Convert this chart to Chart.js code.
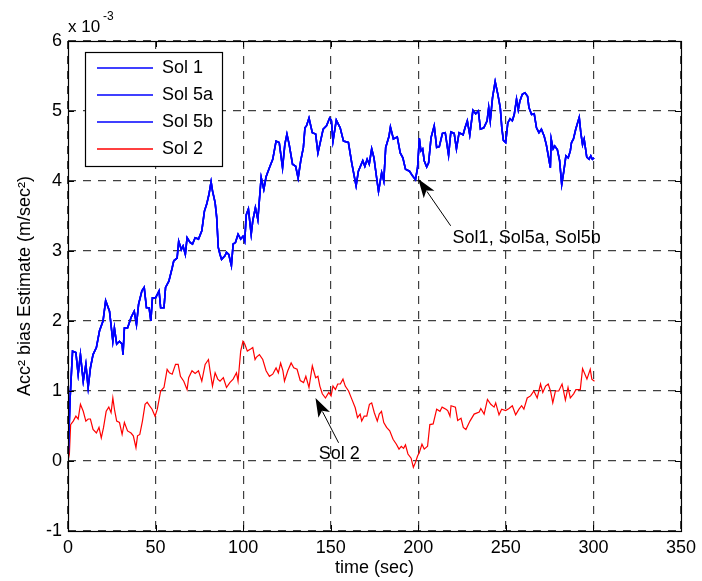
<!DOCTYPE html>
<html>
<head>
<meta charset="utf-8">
<script src="https://cdn.jsdelivr.net/npm/chart.js@4.4.0/dist/chart.umd.min.js"></script>
<style>
  html, body { margin: 0; padding: 0; background: #fff; }
  canvas { display: block; }
</style>
</head>
<body>
<canvas id="accChart" width="702" height="581"></canvas>
<script>
// Sol 1, Sol 5a and Sol 5b lie on top of each other in the plot (x 10^-3)
const solBlueTime = [0, 1.2, 2.6, 4.5, 5.8, 7.1, 8.7, 10.2, 11.5, 12.8, 14.3, 16.2, 18, 20, 21.5, 23.7, 25.6, 26.5, 27.8, 29.4,
  30.9, 31.4, 32.2, 34, 36, 37.8, 39.1, 40.3, 42.2, 43.5, 44.8, 46.3, 47.3, 48.2, 50, 52, 52.9, 54.8, 55.7, 57.6,
  59.5, 60.4, 62.3, 63.2, 64.7, 65.7, 67, 68, 69.8, 71.1, 72.6, 74.5, 76.4, 77.9, 79.2, 80.5, 81.7, 82.5, 84, 84.9,
  85.8, 86.8, 87.7, 89.6, 90.5, 91.8, 93.3, 94.3, 95.6, 97.1, 98.6, 99.9, 100.9, 101.8, 103, 104.6, 105.5, 107, 108.4, 110.3,
  111.8, 113.1, 115, 116.9, 118.8, 120.6, 122.5, 123.8, 125, 126.3, 128.2, 130, 131.4, 132.9, 134.4, 135.3, 136.2, 137.6, 139.5, 141.4,
  142.7, 144.2, 145.7, 147.6, 149.4, 150.4, 151.3, 153.2, 155.4, 157.3, 160.1, 162, 164.5, 165.8, 168.3, 169.5, 170.8, 172, 173.4, 174.7,
  176.2, 177.3, 179.1, 180.3, 181.4, 183.3, 184.1, 185.8, 188, 189.7, 191.2, 192.7, 195, 196.8, 198.4, 199.6, 200.6, 201.5, 202.5, 203.4,
  204.8, 205.9, 207.3, 209.1, 210.5, 212, 213.8, 215.4, 217.3, 218.6, 220.5, 221.8, 223.3, 225.6, 226.7, 228, 229.4, 231.2, 232.8, 234.3,
  235.5, 237.4, 239.3, 240.2, 241.1, 242.4, 243.9, 245.4, 246.8, 247.7, 248.6, 249.9, 251.1, 252.4, 253.7, 254.8, 256.1, 257.1, 258, 259.4,
  260.9, 262.4, 263.2, 264.7, 266.2, 267.5, 268.9, 270.3, 271.9, 273.1, 274.1, 275.4, 275.9, 277, 277.9, 279.4, 280.7, 281.9, 283.1, 284.3,
  285.6, 286.8, 287.5, 288.6, 289.9, 291.9, 292.8, 293.8, 294.7, 296.2, 297.5, 298.5, 299.4, 300.4];
const solBlueVal = [0, 0.9, 1.57, 1.55, 1.24, 1.52, 1.14, 1.38, 1.05, 1.33, 1.52, 1.62, 1.86, 2.0, 2.29, 2.14, 1.71, 1.9, 1.67, 1.71,
  1.67, 1.52, 1.9, 1.9, 2.05, 2.14, 1.95, 2.24, 2.43, 2.48, 2.19, 2.19, 2.0, 2.33, 2.33, 2.43, 2.19, 2.19, 2.48, 2.57,
  2.76, 2.86, 2.9, 3.14, 3.02, 3.07, 2.95, 3.19, 3.12, 3.1, 3.19, 3.17, 3.29, 3.57, 3.67, 3.81, 3.99, 3.86, 3.69, 3.48,
  3.05, 2.95, 2.88, 2.93, 2.98, 2.95, 2.79, 3.1, 3.12, 3.24, 3.17, 3.21, 3.14, 3.52, 3.6, 3.24, 3.43, 3.62, 3.45, 4.05,
  3.88, 4.06, 4.19, 4.31, 4.57, 4.55, 4.19, 4.52, 4.67, 4.52, 4.24, 4.21, 4.04, 4.29, 4.48, 4.76, 4.79, 4.9, 4.69, 4.67,
  4.4, 4.57, 4.74, 4.79, 4.9, 4.86, 4.57, 4.87, 4.76, 4.57, 4.55, 4.26, 3.93, 4.14, 4.29, 4.21, 4.31, 4.24, 4.46, 4.33,
  4.05, 3.85, 4.12, 4.0, 4.48, 4.64, 4.77, 4.6, 4.63, 4.4, 4.33, 4.17, 4.14, 4.07, 4.02, 4.19, 4.61, 4.43, 4.46, 4.29,
  4.2, 4.26, 4.62, 4.79, 4.48, 4.49, 4.68, 4.69, 4.37, 4.7, 4.68, 4.46, 4.69, 4.66, 4.76, 4.86, 4.66, 5.01, 4.96, 5.0,
  4.74, 4.76, 4.86, 5.05, 4.86, 5.19, 5.42, 5.24, 5.05, 4.76, 4.58, 4.55, 4.83, 4.89, 4.86, 4.95, 5.17, 5.02, 5.14, 5.24,
  5.26, 5.21, 5.05, 4.95, 4.96, 4.76, 4.69, 4.74, 4.64, 4.52, 4.38, 4.19, 4.6, 4.46, 4.5, 4.45, 4.29, 3.95, 4.14, 4.36,
  4.33, 4.43, 4.55, 4.6, 4.74, 4.91, 4.69, 4.52, 4.6, 4.34, 4.31, 4.36, 4.31, 4.33];

// Sol 2 (x 10^-3)
const sol2Time = [0, 0.8, 1.5, 3, 4.5, 5.8, 7.1, 8.7, 10.2, 11.5, 12.8, 14.3, 16.2, 17.7, 19, 20.3, 21.8, 23.3, 24.6, 25.6,
  26.5, 27.8, 29.4, 30.9, 32.2, 34, 36, 37.3, 38.8, 39.7, 41, 42.5, 44, 45.2, 46.5, 48, 49.7, 51, 52.9, 54.8,
  56.6, 57.9, 59.5, 61.4, 62.9, 64.2, 66.1, 68, 68.9, 70.8, 72.6, 74.5, 76.4, 78.3, 80.2, 81.1, 82.5, 84, 85.5, 86.8,
  88.7, 90.5, 92.4, 94.3, 96.2, 97.1, 98.6, 99.9, 100.9, 102.4, 104.3, 105.5, 106.8, 107.5, 109.3, 111.2, 113.1, 115, 116.9, 118.8,
  120.1, 121.4, 122.7, 123.6, 125.5, 127.4, 128.9, 130.8, 132.6, 134.5, 135.8, 137.6, 139.5, 141.4, 142.7, 143.8, 145.2, 147, 148.9, 150.2,
  151.3, 152.7, 154, 155.5, 157, 158.3, 160.2, 162.1, 164, 165.3, 166.8, 167.7, 169.1, 170.6, 172.1, 173.4, 174.9, 176.6, 177.7, 179,
  180.3, 181.9, 183.7, 185.6, 187.5, 189, 190.3, 191.6, 192.7, 194.1, 195.9, 197.2, 198.4, 199.6, 200.6, 202.1, 203.4, 205.3, 206.6, 208.5,
  210.5, 212.4, 213.6, 215.8, 216.8, 218.1, 218.7, 221.2, 222.5, 224.4, 225.7, 227.2, 229.5, 231.9, 234.8, 235.7, 237.6, 239.5, 241.4, 243.3,
  244.2, 246.1, 247.6, 249.9, 251.8, 253.7, 255.6, 257.5, 259, 260.3, 262.2, 264.1, 266, 267.9, 269.8, 271.1, 272.7, 274.2, 275.5, 276.8,
  278.3, 280.2, 282.1, 284, 285.5, 286.8, 288.7, 290, 292.5, 293.8, 296.3, 298.2, 299.1, 300.6];
const sol2Val = [0, 0.1, 0.52, 0.57, 0.64, 0.6, 0.81, 0.71, 0.57, 0.6, 0.6, 0.45, 0.4, 0.48, 0.33, 0.48, 0.71, 0.77, 0.69, 0.9,
  0.74, 0.57, 0.55, 0.38, 0.55, 0.43, 0.4, 0.36, 0.19, 0.36, 0.38, 0.57, 0.81, 0.84, 0.79, 0.74, 0.64, 0.74, 1.0, 1.05,
  1.31, 1.26, 1.24, 1.38, 1.38, 1.21, 1.14, 1.02, 1.19, 1.29, 1.25, 1.29, 1.14, 1.38, 1.45, 1.29, 1.07, 1.26, 1.17, 1.14,
  1.19, 1.05, 1.12, 1.17, 1.26, 1.14, 1.57, 1.71, 1.67, 1.57, 1.6, 1.62, 1.45, 1.48, 1.52, 1.45, 1.29, 1.21, 1.24, 1.33,
  1.26, 1.4, 1.29, 1.14, 1.29, 1.4, 1.33, 1.31, 1.15, 1.12, 1.21, 1.05, 1.36, 1.19, 1.21, 1.07, 0.96, 0.9, 0.98, 0.93,
  1.07, 1.02, 1.1, 1.1, 1.17, 1.07, 1.0, 0.88, 0.76, 0.62, 0.67, 0.57, 0.64, 0.64, 0.81, 0.83, 0.69, 0.57, 0.67, 0.71,
  0.55, 0.48, 0.43, 0.31, 0.24, 0.17, 0.21, 0.18, 0.23, 0.1, 0.04, -0.09, -0.02, 0.07, 0.12, 0.24, 0.17, 0.21, 0.52, 0.53,
  0.74, 0.71, 0.77, 0.74, 0.72, 0.64, 0.79, 0.77, 0.58, 0.61, 0.48, 0.45, 0.57, 0.67, 0.7, 0.75, 0.67, 0.88, 0.81, 0.77,
  0.83, 0.66, 0.74, 0.72, 0.75, 0.79, 0.66, 0.74, 0.79, 0.74, 0.9, 0.93, 1.0, 0.9, 1.1, 0.98, 1.07, 1.1, 1.0, 0.83,
  1.0, 1.0, 1.1, 0.87, 1.05, 0.9, 0.96, 1.02, 1.02, 1.32, 1.17, 1.31, 1.17, 1.14];

const seriesNames = ["Sol 1", "Sol 5a", "Sol 5b", "Sol 2"];
const seriesColors = ["#0000ff", "#0000ff", "#0000ff", "#ff0000"];
const xTicks = [0, 50, 100, 150, 200, 250, 300, 350];
const yTicks = [-1, 0, 1, 2, 3, 4, 5, 6];

// text arrows: tip, tail and label anchor in data units
const notes = [
  { text: "Sol1, Sol5a, Sol5b", tip: [200, 4.03], tail: [218.5, 3.36], label: [219.6, 3.19] },
  { text: "Sol 2", tip: [141.3, 0.9], tail: [154.5, 0.26], label: [143.2, 0.1] }
];

const FONT = "'Liberation Sans', Arial, Helvetica, sans-serif";

function toPoints(ts, vs) {
  return ts.map((t, i) => ({ x: t, y: vs[i] }));
}

const bluePts = toPoints(solBlueTime, solBlueVal);
const redPts = toPoints(sol2Time, sol2Val);

const datasets = seriesNames.map((name, i) => ({
  label: name,
  data: i < 3 ? bluePts : redPts,
  borderColor: seriesColors[i],
  borderWidth: i < 3 ? 1.6 : 1.2,
  pointRadius: 0,
  fill: false,
  tension: 0
}));

function drawArrow(ctx, x0, y0, x1, y1) {
  const ang = Math.atan2(y1 - y0, x1 - x0);
  const len = 19, half = 6.5;
  const c = Math.cos(ang), s = Math.sin(ang);
  ctx.beginPath();
  ctx.moveTo(x0, y0);
  ctx.lineTo(x1 - c * len * 0.8, y1 - s * len * 0.8);
  ctx.stroke();
  ctx.beginPath();
  ctx.moveTo(x1, y1);
  ctx.lineTo(x1 - c * len + s * half, y1 - s * len - c * half);
  ctx.lineTo(x1 - c * len * 0.75, y1 - s * len * 0.75);
  ctx.lineTo(x1 - c * len - s * half, y1 - s * len + c * half);
  ctx.closePath();
  ctx.fill();
}

const matlabLook = {
  id: "matlabLook",
  afterDraw(chart) {
    const ctx = chart.ctx;
    const a = chart.chartArea;
    const xs = chart.scales.x, ys = chart.scales.y;
    ctx.save();

    // axes box with inward ticks
    ctx.strokeStyle = "#000";
    ctx.lineWidth = 1.2;
    ctx.strokeRect(a.left + 0.5, a.top + 0.5, a.right - a.left, a.bottom - a.top);
    ctx.lineWidth = 1;
    ctx.beginPath();
    xTicks.forEach(v => {
      const px = Math.round(xs.getPixelForValue(v)) + 0.5;
      ctx.moveTo(px, a.bottom); ctx.lineTo(px, a.bottom - 6);
      ctx.moveTo(px, a.top); ctx.lineTo(px, a.top + 6);
    });
    yTicks.forEach(v => {
      const py = Math.round(ys.getPixelForValue(v)) + 0.5;
      ctx.moveTo(a.left, py); ctx.lineTo(a.left + 6, py);
      ctx.moveTo(a.right, py); ctx.lineTo(a.right - 6, py);
    });
    ctx.stroke();

    // exponent label
    ctx.fillStyle = "#000";
    ctx.textBaseline = "alphabetic";
    ctx.textAlign = "left";
    ctx.font = "17px " + FONT;
    ctx.fillText("x 10", a.left, 32);
    ctx.font = "12px " + FONT;
    ctx.fillText("-3", a.left + 35, 20);

    // legend
    const lx = 85, ly = 52, lw = 137, lh = 114;
    ctx.fillStyle = "#fff";
    ctx.fillRect(lx, ly, lw, lh);
    ctx.strokeStyle = "#000";
    ctx.lineWidth = 1.2;
    ctx.strokeRect(lx + 0.5, ly + 0.5, lw, lh);
    ctx.font = "18px " + FONT;
    ctx.textBaseline = "middle";
    chart.data.datasets.forEach((ds, i) => {
      const ry = ly + 16 + i * 27;
      ctx.strokeStyle = ds.borderColor;
      ctx.lineWidth = 1.3;
      ctx.beginPath();
      ctx.moveTo(lx + 12, ry); ctx.lineTo(lx + 68, ry);
      ctx.stroke();
      ctx.fillStyle = "#000";
      ctx.fillText(ds.label, lx + 77, ry);
    });

    // arrows and their labels
    ctx.strokeStyle = "#000";
    ctx.fillStyle = "#000";
    ctx.lineWidth = 1;
    notes.forEach(n => {
      drawArrow(ctx,
        xs.getPixelForValue(n.tail[0]), ys.getPixelForValue(n.tail[1]),
        xs.getPixelForValue(n.tip[0]), ys.getPixelForValue(n.tip[1]));
      ctx.fillText(n.text, xs.getPixelForValue(n.label[0]), ys.getPixelForValue(n.label[1]));
    });
    ctx.restore();
  }
};

new Chart(document.getElementById("accChart"), {
  type: "line",
  data: { datasets: datasets },
  options: {
    responsive: false,
    animation: false,
    layout: { padding: { top: 41, right: 14, left: 0, bottom: 0 } },
    plugins: { legend: { display: false }, tooltip: { enabled: false } },
    scales: {
      x: {
        type: "linear",
        min: 0,
        max: 350,
        afterBuildTicks: s => { s.ticks = xTicks.map(v => ({ value: v })); },
        afterFit: s => { s.height = 50; },
        grid: { color: "rgba(0,0,0,0.75)", lineWidth: 1.2, drawTicks: false },
        border: { display: false, dash: [8, 7] },
        ticks: { padding: 6, color: "#000", maxRotation: 0, font: { family: FONT, size: 18 } },
        title: { display: true, text: "time (sec)", color: "#000", font: { family: FONT, size: 18 }, padding: { top: 0, bottom: 2 } }
      },
      y: {
        type: "linear",
        min: -1,
        max: 6,
        afterBuildTicks: s => { s.ticks = yTicks.map(v => ({ value: v })); },
        afterFit: s => { s.width = 68; },
        grid: { color: "rgba(0,0,0,0.75)", lineWidth: 1.2, drawTicks: false },
        border: { display: false, dash: [8, 7] },
        ticks: { padding: 6, color: "#000", font: { family: FONT, size: 18 } },
        title: { display: true, text: "Acc\u00b2 bias Estimate (m/sec\u00b2)", color: "#000", font: { family: FONT, size: 18 }, padding: { top: 14, bottom: 0 } }
      }
    }
  },
  plugins: [matlabLook]
});
</script>
</body>
</html>
